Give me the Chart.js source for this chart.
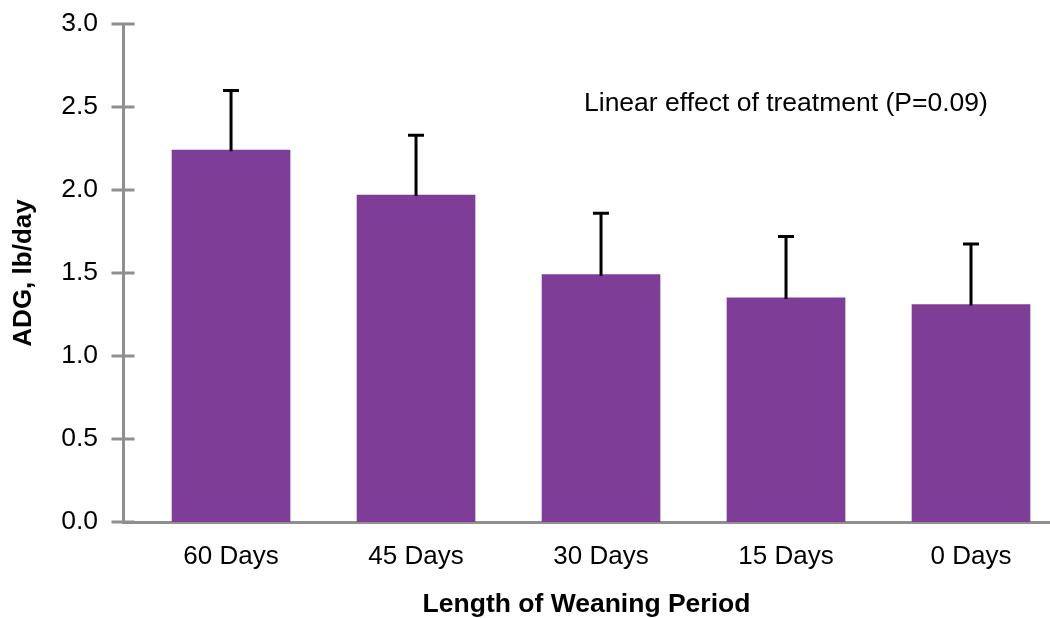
<!DOCTYPE html>
<html>
<head>
<meta charset="utf-8">
<script src="https://cdn.jsdelivr.net/npm/chart.js@4"></script>
<style>
  html, body { margin: 0; padding: 0; background: #fff; overflow: hidden; }
  #wrap { width: 1050px; height: 618px; position: relative; }
</style>
</head>
<body>
<div id="wrap"><canvas id="c" width="1050" height="618"></canvas></div>
<script>
const categories = ['60 Days', '45 Days', '30 Days', '15 Days', '0 Days'];
const adgValues = [2.24, 1.97, 1.49, 1.35, 1.31];
const errorTops = [2.60, 2.33, 1.86, 1.72, 1.675];
const yTicks = [0, 0.5, 1.0, 1.5, 2.0, 2.5, 3.0];
const yTitle = 'ADG, lb/day';
const xTitle = 'Length of Weaning Period';
const note = 'Linear effect of treatment (P=0.09)';

const FONT = "'Liberation Sans', Arial, Helvetica, sans-serif";
const AXIS_GRAY = '#8f8f8f';
const BAR_COLOR = '#7e3e97';

const decorPlugin = {
  id: 'decor',
  afterDatasetsDraw(chart) {
    const ctx = chart.ctx;
    const xs = chart.scales.x, ys = chart.scales.y;
    ctx.save();
    ctx.strokeStyle = '#000';
    ctx.lineWidth = 3;
    errorTops.forEach((e, i) => {
      const px = xs.getPixelForValue(i);
      const top = ys.getPixelForValue(e);
      const base = ys.getPixelForValue(adgValues[i]);
      ctx.beginPath();
      ctx.moveTo(px, base + 1);
      ctx.lineTo(px, top);
      ctx.moveTo(px - 8, top);
      ctx.lineTo(px + 8, top);
      ctx.stroke();
    });
    ctx.restore();
  },
  afterDraw(chart) {
    const ctx = chart.ctx;
    const ys = chart.scales.y;
    const ax = chart.chartArea.left;
    ctx.save();
    ctx.strokeStyle = AXIS_GRAY;
    ctx.lineWidth = 3;
    yTicks.forEach(v => {
      const py = ys.getPixelForValue(v);
      ctx.beginPath();
      ctx.moveTo(ax - 11.5, py);
      ctx.lineTo(ax + 11.5, py);
      ctx.stroke();
    });
    ctx.fillStyle = '#000';
    ctx.font = '26.5px ' + FONT;
    ctx.textBaseline = 'middle';
    ctx.textAlign = 'left';
    ctx.fillText(note, 584, 104);
    ctx.restore();
  }
};

new Chart(document.getElementById('c'), {
  type: 'bar',
  data: {
    datasets: [{
      data: adgValues.map((v, i) => ({ x: i, y: v })),
      backgroundColor: BAR_COLOR,
      borderWidth: 0,
      barThickness: 118
    }]
  },
  options: {
    responsive: false,
    animation: false,
    devicePixelRatio: 1,
    layout: { padding: { top: 24, right: 0, left: 0, bottom: 0 } },
    plugins: { legend: { display: false }, tooltip: { enabled: false } },
    scales: {
      x: {
        type: 'linear',
        offset: false,
        min: -0.584,
        max: 4.427,
        grid: { display: false },
        border: { display: true, color: AXIS_GRAY, width: 3 },
        afterBuildTicks: s => { s.ticks = categories.map((c, i) => ({ value: i })); },
        afterFit: s => { s.height = 96; s.paddingLeft = 0; s.paddingRight = 0; },
        ticks: {
          autoSkip: false,
          maxRotation: 0,
          padding: 11,
          color: '#000',
          font: { family: FONT, size: 26 },
          callback: v => categories[v]
        },
        title: {
          display: true,
          text: xTitle,
          color: '#000',
          font: { family: FONT, size: 26.5, weight: 'bold', lineHeight: 1 },
          padding: { top: 0, bottom: 0 }
        }
      },
      y: {
        min: 0,
        max: 3,
        grid: { display: false },
        border: { display: true, color: AXIS_GRAY, width: 3 },
        afterBuildTicks: s => { s.ticks = yTicks.map(v => ({ value: v })); },
        afterFit: s => { s.width = 123; s.paddingTop = 0; s.paddingBottom = 0; },
        ticks: {
          padding: 17,
          color: '#000',
          font: { family: FONT, size: 26.5 },
          callback: v => Number(v).toFixed(1)
        },
        title: {
          display: true,
          text: yTitle,
          color: '#000',
          font: { family: FONT, size: 26, weight: 'bold', lineHeight: 1 },
          padding: { top: 11, bottom: 0 }
        }
      }
    }
  },
  plugins: [decorPlugin]
});
</script>
</body>
</html>
